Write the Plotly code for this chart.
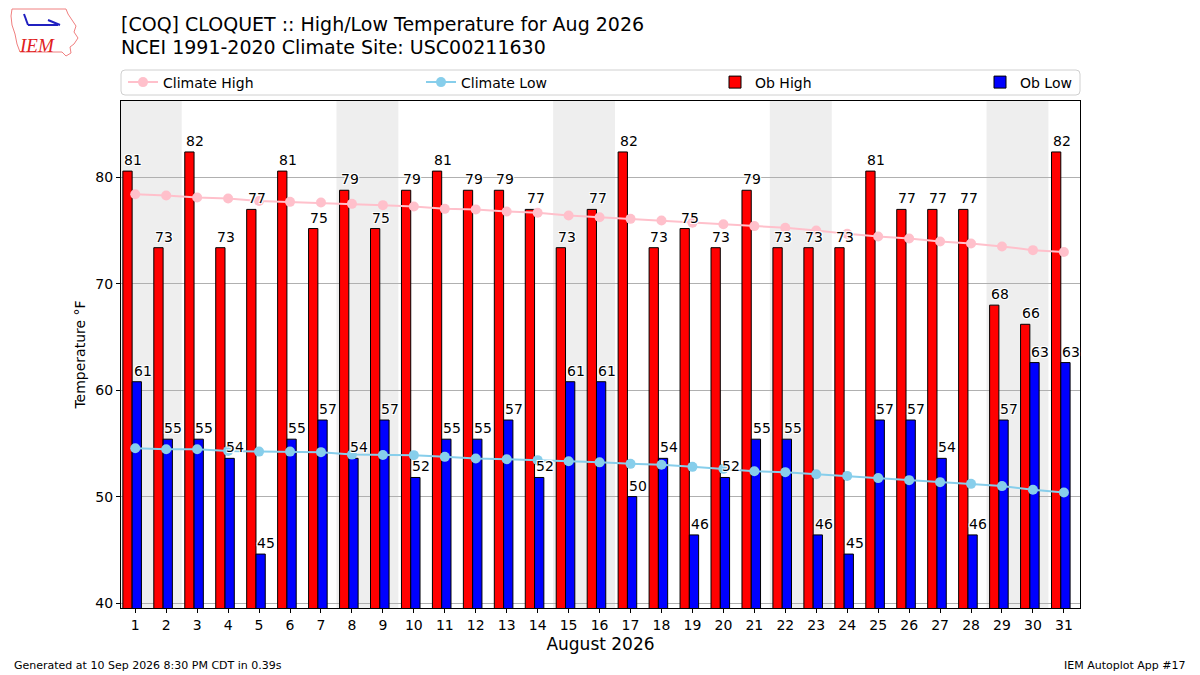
import datetime
import plotly.graph_objects as go

# ---------------- data ----------------
days = list(range(1, 32))
ob_high = [80.6, 73.4, 82.4, 73.4, 77.0, 80.6, 75.2, 78.8, 75.2, 78.8,
           80.6, 78.8, 78.8, 77.0, 73.4, 77.0, 82.4, 73.4, 75.2, 73.4,
           78.8, 73.4, 73.4, 73.4, 80.6, 77.0, 77.0, 77.0, 68.0, 66.2, 82.4]
ob_low = [60.8, 55.4, 55.4, 53.6, 44.6, 55.4, 57.2, 53.6, 57.2, 51.8,
          55.4, 55.4, 57.2, 51.8, 60.8, 60.8, 50.0, 53.6, 46.4, 51.8,
          55.4, 55.4, 46.4, 44.6, 57.2, 57.2, 53.6, 46.4, 57.2, 62.6, 62.6]
clim_high = [78.43, 78.31, 78.12, 78.03, 77.80, 77.71, 77.65, 77.52, 77.40, 77.28,
             77.05, 77.00, 76.80, 76.68, 76.43, 76.27, 76.11, 75.96, 75.74, 75.60,
             75.43, 75.27, 75.02, 74.70, 74.46, 74.27, 73.99, 73.80, 73.52, 73.17, 72.99]
clim_low = [54.55, 54.46, 54.46, 54.30, 54.23, 54.23, 54.18, 53.95, 53.92, 53.90,
            53.74, 53.58, 53.52, 53.43, 53.33, 53.22, 53.08, 52.99, 52.80, 52.61,
            52.39, 52.30, 52.11, 51.95, 51.74, 51.55, 51.36, 51.20, 50.99, 50.64, 50.38]
year, month = 2026, 8
title1 = "[COQ] CLOQUET :: High/Low Temperature for Aug 2026"
title2 = "NCEI 1991-2020 Climate Site: USC00211630"
footer_left = "Generated at 10 Sep 2026 8:30 PM CDT in 0.39s"
footer_right = "IEM Autoplot App #17"
y_ticks = [40, 50, 60, 70, 80]

FONT = "DejaVu Sans"

# pixel helpers (plot area: x 121..1080, y 101..608)
PL, PR, PT, PB = 121, 1080, 101, 608
def px(x):
    return (x - PL) / (PR - PL)
def py(y):
    return (PB - y) / (PB - PT)

fig = go.Figure()

fig.add_trace(go.Bar(x=days, y=ob_high, offset=-0.4, width=0.3,
                     marker=dict(color="red", line=dict(color="black", width=1)),
                     name="Ob High", legend="legend3"))
fig.add_trace(go.Bar(x=days, y=ob_low, offset=-0.1, width=0.3,
                     marker=dict(color="blue", line=dict(color="black", width=1)),
                     name="Ob Low", legend="legend4"))
fig.add_trace(go.Scatter(x=days, y=clim_high, mode="lines+markers",
                         line=dict(color="pink", width=2),
                         marker=dict(color="pink", size=10),
                         name="Climate High", legend="legend"))
fig.add_trace(go.Scatter(x=days, y=clim_low, mode="lines+markers",
                         line=dict(color="skyblue", width=2),
                         marker=dict(color="skyblue", size=10),
                         name="Climate Low", legend="legend2"))

# weekend shading
shapes = []
for d in days:
    wd = datetime.date(year, month, d).weekday()
    if wd == 5:
        shapes.append(dict(type="rect", xref="x", yref="paper", x0=d - 0.5, x1=d + 1.5,
                           y0=0, y1=1, fillcolor="#EEEEEE", line=dict(width=0),
                           layer="below"))

# legend frame (rounded)
lx0, lx1, ly0, ly1 = px(121), px(1080), py(95), py(70)
rx, ry = 4 / (PR - PL), 4 / (PB - PT)
path = (f"M {lx0+rx},{ly0} L {lx1-rx},{ly0} Q {lx1},{ly0} {lx1},{ly0+ry} "
        f"L {lx1},{ly1-ry} Q {lx1},{ly1} {lx1-rx},{ly1} L {lx0+rx},{ly1} "
        f"Q {lx0},{ly1} {lx0},{ly1-ry} L {lx0},{ly0+ry} Q {lx0},{ly0} {lx0+rx},{ly0} Z")
shapes.append(dict(type="path", xref="paper", yref="paper", path=path,
                   line=dict(color="#d0d0d0", width=1), fillcolor="rgba(255,255,255,0.8)",
                   layer="above"))

# IEM logo approximation (Iowa outline)
iowa = [(12, 9), (66, 9), (68, 14), (72, 20), (76, 26), (74, 32), (78, 38), (74, 44),
        (70, 47), (71, 53), (66, 56), (62, 52), (20, 52), (17, 44), (15, 34), (12, 25), (11, 16)]
ipath = "M " + " L ".join(f"{px(a)},{py(b)}" for a, b in iowa) + " Z"
shapes.append(dict(type="path", xref="paper", yref="paper", path=ipath,
                   line=dict(color="#f08080", width=1), fillcolor="rgba(0,0,0,0)"))
shapes.append(dict(type="line", xref="paper", yref="paper", x0=px(28), x1=px(58),
                   y0=py(25), y1=py(25), line=dict(color="#2020c0", width=2)))
shapes.append(dict(type="line", xref="paper", yref="paper", x0=px(24), x1=px(28),
                   y0=py(14), y1=py(25), line=dict(color="#2020c0", width=2)))
shapes.append(dict(type="line", xref="paper", yref="paper", x0=px(48), x1=px(60),
                   y0=py(20), y1=py(25), line=dict(color="#2020c0", width=2)))

annotations = []
halo = "white 1px 1px 0px, white -1px -1px 0px, white 1px -1px 0px, white -1px 1px 0px"
for d, v in zip(days, ob_high):
    annotations.append(dict(x=d - 0.42, y=v, xref="x", yref="y", text=f"{round(v)}",
                            showarrow=False, xanchor="left", yanchor="bottom", yshift=1,
                            font=dict(family=FONT, size=14, color="black", shadow=halo)))
for d, v in zip(days, ob_low):
    annotations.append(dict(x=d - 0.12, y=v, xref="x", yref="y", text=f"{round(v)}",
                            showarrow=False, xanchor="left", yanchor="bottom", yshift=1,
                            font=dict(family=FONT, size=14, color="black", shadow=halo)))

annotations += [
    dict(x=px(119), y=py(24), xref="paper", yref="paper", text=title1, showarrow=False,
         xanchor="left", yanchor="middle", font=dict(family=FONT, size=19, color="black")),
    dict(x=px(119), y=py(47), xref="paper", yref="paper", text=title2, showarrow=False,
         xanchor="left", yanchor="middle", font=dict(family=FONT, size=19, color="black")),
    dict(x=px(12), y=py(665), xref="paper", yref="paper", text=footer_left, showarrow=False,
         xanchor="left", yanchor="middle", font=dict(family=FONT, size=11, color="black")),
    dict(x=px(1188), y=py(665), xref="paper", yref="paper", text=footer_right, showarrow=False,
         xanchor="right", yanchor="middle", font=dict(family=FONT, size=11, color="black")),
    dict(x=px(37), y=py(45), xref="paper", yref="paper", text="<i>IEM</i>", showarrow=False,
         xanchor="center", yanchor="middle",
         font=dict(family="Liberation Serif", size=19, color="#e02020")),
]

leg_common = dict(orientation="h", xref="paper", yref="paper", yanchor="middle",
                  y=py(82.5), bgcolor="rgba(0,0,0,0)", borderwidth=0,
                  font=dict(family=FONT, size=14, color="black"))

fig.update_layout(
    width=1200, height=675,
    margin=dict(l=PL, r=1200 - PR, t=PT, b=675 - PB),
    paper_bgcolor="white", plot_bgcolor="white",
    barmode="overlay",
    font=dict(family=FONT, size=14, color="black"),
    showlegend=True,
    legend=dict(x=px(123), **leg_common),
    legend2=dict(x=px(421), **leg_common),
    legend3=dict(x=px(715), **leg_common),
    legend4=dict(x=px(980), **leg_common),
    shapes=shapes,
    annotations=annotations,
    xaxis=dict(range=[0.54, 31.52], tickmode="array", tickvals=days,
               ticktext=[str(d) for d in days], ticks="outside", ticklen=4,
               tickcolor="black", showgrid=False, zeroline=False,
               showline=True, mirror=True, linecolor="black", linewidth=1,
               tickfont=dict(family=FONT, size=14),
               title=dict(text=f"August {year}", font=dict(family=FONT, size=17), standoff=6)),
    yaxis=dict(range=[39.53, 87.19], tickmode="array", tickvals=y_ticks,
               ticks="outside", ticklen=4, tickcolor="black",
               showgrid=True, gridcolor="#b0b0b0", gridwidth=1, zeroline=False,
               showline=True, mirror=True, linecolor="black", linewidth=1,
               tickfont=dict(family=FONT, size=14),
               title=dict(text="Temperature °F", font=dict(family=FONT, size=14), standoff=6)),
)

fig.write_html("out.html", config={"displayModeBar": False},
               post_script="document.body.style.margin='0';document.body.style.padding='0';")
